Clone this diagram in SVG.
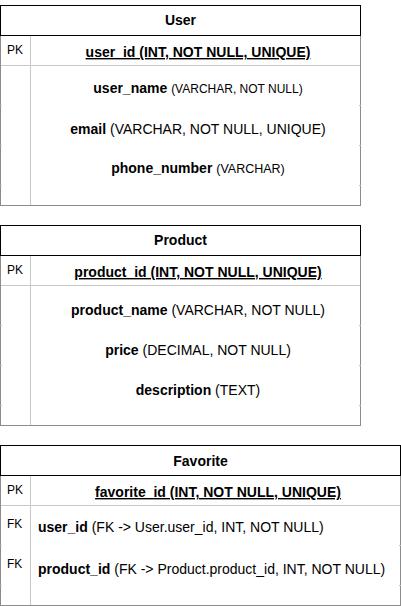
<svg xmlns="http://www.w3.org/2000/svg" width="401" height="606" viewBox="0 0 401 606">
<style>
text{font-family:"Liberation Sans",Arial,sans-serif;fill:#000}
.hd{stroke:#000;stroke-width:1;fill:#fff}
.body{stroke:#8c8c8c;stroke-width:1;fill:#fff}
.inner{stroke:#c8c8c8;stroke-width:1;fill:none}
.tick{stroke:#bdbdbd;stroke-width:1}
.title{font-size:14px;font-weight:bold;text-anchor:middle}
.key{font-size:12px}
.c{font-size:14px;text-anchor:middle}
.l{font-size:14px}
.b{font-weight:bold}
.s{font-size:12px}
.s2{font-size:12.5px}
.u{text-decoration:underline}
</style>
<g id="connectors"/>
<g id="user">
<rect class="body" x="0.5" y="35.5" width="360" height="170"/>
<rect class="hd" x="0.5" y="5.5" width="360" height="30"/>
<line class="inner" x1="1" y1="65.5" x2="360" y2="65.5"/>
<line class="inner" x1="30.5" y1="36" x2="30.5" y2="205"/>
<line class="tick" x1="0" y1="105.5" x2="2" y2="105.5"/><line class="tick" x1="0" y1="145.5" x2="2" y2="145.5"/><line class="tick" x1="0" y1="185.5" x2="2" y2="185.5"/>
<line class="tick" x1="359" y1="105.5" x2="361" y2="105.5"/><line class="tick" x1="359" y1="145.5" x2="361" y2="145.5"/><line class="tick" x1="359" y1="185.5" x2="361" y2="185.5"/>
<text class="title" x="180.5" y="25">User</text>
<text class="key" x="7" y="54">PK</text>
<text class="c b u" x="198" y="57">user_id (INT, NOT NULL, UNIQUE)</text>
<text class="c" x="198" y="93"><tspan class="b">user_name</tspan> <tspan class="s">(VARCHAR, NOT NULL)</tspan></text>
<text class="c" x="198" y="134"><tspan class="b">email</tspan> (VARCHAR, NOT NULL, UNIQUE)</text>
<text class="c" x="198" y="173"><tspan class="b">phone_number</tspan> <tspan class="s2">(VARCHAR)</tspan></text>
</g>
<g id="product">
<rect class="body" x="0.5" y="255.5" width="360" height="170"/>
<rect class="hd" x="0.5" y="225.5" width="360" height="30"/>
<line class="inner" x1="1" y1="285.5" x2="360" y2="285.5"/>
<line class="inner" x1="30.5" y1="256" x2="30.5" y2="425"/>
<line class="tick" x1="0" y1="325.5" x2="2" y2="325.5"/><line class="tick" x1="0" y1="365.5" x2="2" y2="365.5"/><line class="tick" x1="0" y1="405.5" x2="2" y2="405.5"/>
<line class="tick" x1="359" y1="325.5" x2="361" y2="325.5"/><line class="tick" x1="359" y1="365.5" x2="361" y2="365.5"/><line class="tick" x1="359" y1="405.5" x2="361" y2="405.5"/>
<text class="title" x="180.5" y="245">Product</text>
<text class="key" x="7" y="274">PK</text>
<text class="c b u" x="198" y="277">product_id (INT, NOT NULL, UNIQUE)</text>
<text class="c" x="198" y="315"><tspan class="b">product_name</tspan> (VARCHAR, NOT NULL)</text>
<text class="c" x="198" y="355"><tspan class="b">price</tspan> (DECIMAL, NOT NULL)</text>
<text class="c" x="198" y="395"><tspan class="b">description</tspan> (TEXT)</text>
</g>
<g id="favorite">
<rect class="body" x="0.5" y="475.5" width="400" height="130"/>
<rect class="hd" x="0.5" y="445.5" width="400" height="30"/>
<line class="inner" x1="1" y1="505.5" x2="400" y2="505.5"/>
<line class="inner" x1="30.5" y1="476" x2="30.5" y2="605"/>
<line class="tick" x1="0" y1="545.5" x2="2" y2="545.5"/><line class="tick" x1="0" y1="585.5" x2="2" y2="585.5"/>
<line class="tick" x1="399" y1="545.5" x2="401" y2="545.5"/><line class="tick" x1="399" y1="585.5" x2="401" y2="585.5"/>
<text class="title" x="200.5" y="466">Favorite</text>
<text class="key" x="7" y="494">PK</text>
<text class="c b u" x="218" y="497">favorite_id (INT, NOT NULL, UNIQUE)</text>
<text class="key" x="7" y="528">FK</text>
<text class="l" x="38" y="532"><tspan class="b">user_id</tspan> (FK -&gt; User.user_id, INT, NOT NULL)</text>
<text class="key" x="7" y="568">FK</text>
<text class="l" x="38" y="574"><tspan class="b">product_id</tspan> (FK -&gt; Product.product_id, INT, NOT NULL)</text>
</g>
</svg>
